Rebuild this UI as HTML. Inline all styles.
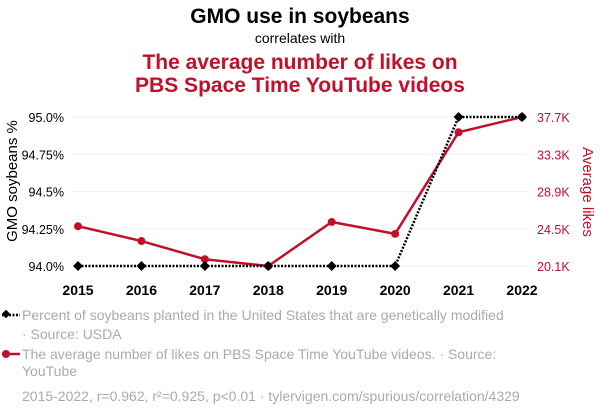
<!DOCTYPE html>
<html><head><meta charset="utf-8">
<style>
body{margin:0;background:#fff;font-family:"Liberation Sans",sans-serif;}
svg text{font-family:"Liberation Sans",sans-serif;}
</style></head>
<body>
<svg id="chart" width="600" height="414" viewBox="0 0 600 414">
<text x="300" y="23" text-anchor="middle" font-size="21" font-weight="bold" fill="#000">GMO use in soybeans</text>
<text x="300" y="43" text-anchor="middle" font-size="14" fill="#000">correlates with</text>
<text x="300" y="69" text-anchor="middle" font-size="21" font-weight="bold" fill="#c0102c">The average number of likes on</text>
<text x="300" y="92" text-anchor="middle" font-size="21" font-weight="bold" fill="#c0102c">PBS Space Time YouTube videos</text>
<g id="grid"></g>
<g id="axes"></g>
<g id="series"></g>
<text transform="translate(17,181) rotate(-90)" text-anchor="middle" font-size="15" fill="#000">GMO soybeans %</text>
<text transform="translate(583,192) rotate(90)" text-anchor="middle" font-size="15" fill="#c0102c">Average likes</text>
<g>
<line x1="2" y1="315" x2="20" y2="315" stroke="#000" stroke-width="2.5" stroke-dasharray="2,1.5"/>
<rect x="3" y="311" width="6" height="6" transform="rotate(45 6 314)" fill="#000"/>
<text x="22" y="320" font-size="14" fill="#aaa">Percent of soybeans planted in the United States that are genetically modified</text>
<text x="22" y="339" font-size="14" fill="#aaa">· Source: USDA</text>
</g>
<g>
<line x1="2" y1="354" x2="20" y2="354" stroke="#c0102c" stroke-width="2.5"/>
<circle cx="6" cy="354" r="4" fill="#c0102c"/>
<text x="22" y="359" font-size="14" fill="#aaa">The average number of likes on PBS Space Time YouTube videos. · Source:</text>
<text x="22" y="376" font-size="14" fill="#aaa">YouTube</text>
</g>
<text x="22" y="401" font-size="14" fill="#aaa">2015-2022, r=0.962, r²=0.925, p&lt;0.01 · tylervigen.com/spurious/correlation/4329</text>
</svg>
<script>
const years=[2015,2016,2017,2018,2019,2020,2021,2022];
const gmo=[94,94,94,94,94,94,95,95];
const likes=[24.8,23.05,20.9,20.1,25.3,23.9,35.9,37.7];
const leftTicks=[94.0,94.25,94.5,94.75,95.0];
const leftTickLabels=["94.0%","94.25%","94.5%","94.75%","95.0%"];
const rightTicks=[20.1,24.5,28.9,33.3,37.7];
const rightTickLabels=["20.1K","24.5K","28.9K","33.3K","37.7K"];

const NS="http://www.w3.org/2000/svg";
const X0=78,X1=522,YT=117,YB=266;
const xS=y=>X0+(y-2015)/(2022-2015)*(X1-X0);
const yL=v=>YB-(v-94)/(95-94)*(YB-YT);
const yR=v=>YB-(v-20.1)/(37.7-20.1)*(YB-YT);
function mk(tag,attrs,parent){const e=document.createElementNS(NS,tag);for(const k in attrs)e.setAttribute(k,attrs[k]);parent.appendChild(e);return e;}
const grid=document.getElementById('grid'),axes=document.getElementById('axes'),ser=document.getElementById('series');
leftTicks.forEach((t,i)=>{
  const l=mk('line',{x1:72,x2:528,y1:yL(t),y2:yL(t),stroke:'#f0f0f0','stroke-width':1},grid);
  
  
  const tx=mk('text',{x:64,y:yL(t)+5,'text-anchor':'end','font-size':12.5,fill:'#000'},axes);
  tx.textContent=leftTickLabels[i];
  
  
});
rightTicks.forEach((t,i)=>{
  const tx=mk('text',{x:537,y:yR(t)+5,'font-size':12.5,fill:'#c0102c'},axes);
  tx.textContent=rightTickLabels[i];
  
  
});
years.forEach(y=>{
  const tx=mk('text',{x:xS(y),y:295,'text-anchor':'middle','font-size':14,'font-weight':'bold',fill:'#000'},axes);
  tx.textContent=y;
  
  
});
const rp=mk('polyline',{points:years.map((y,i)=>xS(y)+','+yR(likes[i])).join(' '),fill:'none',stroke:'#c0102c','stroke-width':2.5},ser);


years.forEach((y,i)=>{
  const c=mk('circle',{cx:xS(y),cy:yR(likes[i]),r:4,fill:'#c0102c'},ser);
  
  
});
const bp=mk('polyline',{points:years.map((y,i)=>xS(y)+','+yL(gmo[i])).join(' '),fill:'none',stroke:'#000','stroke-width':2.5,'stroke-dasharray':'2,1.5'},ser);


years.forEach((y,i)=>{
  const cx=xS(y),cy=yL(gmo[i]);
  const d=mk('rect',{x:cx-3.5,y:cy-3.5,width:7,height:7,fill:'#000',transform:`rotate(45 ${cx} ${cy})`},ser);
  
  
});
</script>
</body></html>
